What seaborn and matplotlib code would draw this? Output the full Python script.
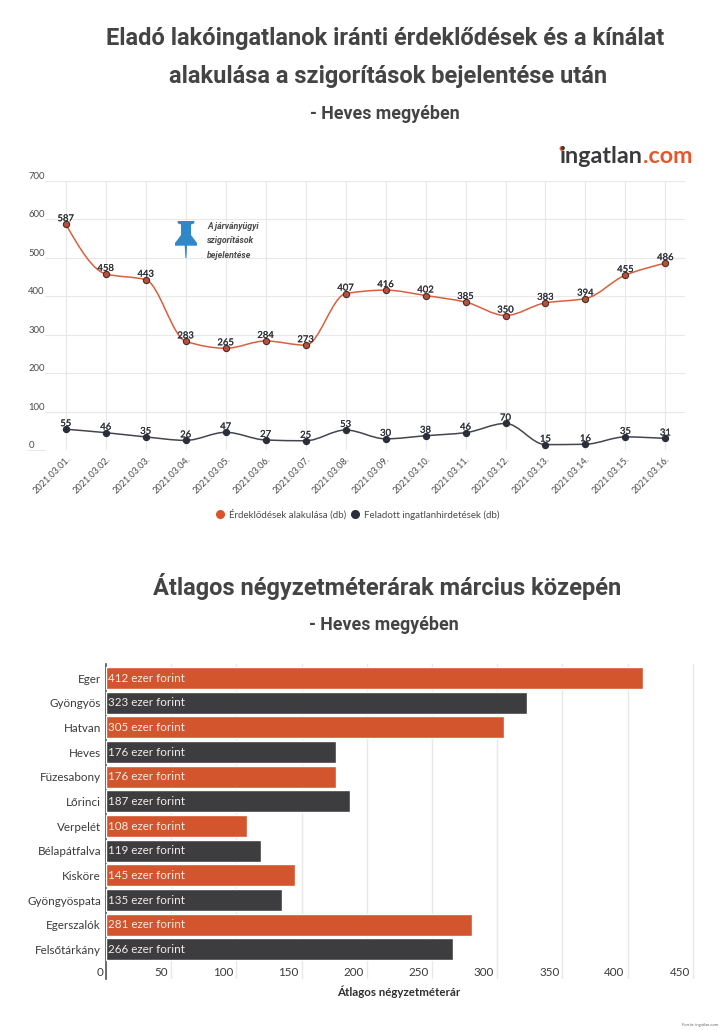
import numpy as np
import seaborn as sns
from matplotlib import pyplot as plt
from matplotlib import patheffects as pe
from matplotlib.lines import Line2D
from matplotlib.patches import Ellipse, PathPatch, Polygon
from matplotlib.path import Path
from matplotlib.transforms import ScaledTranslation

# line chart data
dates = ['2021.03.01.', '2021.03.02.', '2021.03.03.', '2021.03.04.', '2021.03.05.', '2021.03.06.',
         '2021.03.07.', '2021.03.08.', '2021.03.09.', '2021.03.10.', '2021.03.11.', '2021.03.12.',
         '2021.03.13.', '2021.03.14.', '2021.03.15.', '2021.03.16.']
erdeklodes = [587, 458, 443, 283, 265, 284, 273, 407, 416, 402, 385, 350, 383, 394, 455, 486]
hirdetes = [55, 46, 35, 26, 47, 27, 25, 53, 30, 38, 46, 70, 15, 16, 35, 31]
line_ticks = [0, 100, 200, 300, 400, 500, 600, 700]
line_names = ['Érdeklődések alakulása (db)', 'Feladott ingatlanhirdetések (db)']

# bar chart data
cities = ['Eger', 'Gyöngyös', 'Hatvan', 'Heves', 'Füzesabony', 'Lőrinci', 'Verpelét', 'Bélapátfalva',
          'Kisköre', 'Gyöngyöspata', 'Egerszalók', 'Felsőtárkány']
prices = [412, 323, 305, 176, 176, 187, 108, 119, 145, 135, 281, 266]
bar_groups = ['a', 'b', 'a', 'b', 'a', 'b', 'a', 'b', 'a', 'b', 'a', 'b']
bar_ticks = [0, 50, 100, 150, 200, 250, 300, 350, 400, 450]

W, H = 722, 1030
ORANGE = '#d2552d'
LINE_ORANGE = '#d8603f'
DARK = '#3d3d40'
NAVY = '#2b2d3a'
GRID = '#e8e8e8'
TEXT = '#4a4a4a'

sns.set_theme(style='white')
plt.rcParams['font.family'] = ['Lato', 'DejaVu Sans']


def px_axes(fig, left, top, right, bottom):
    return fig.add_axes([left / W, 1 - bottom / H, (right - left) / W, (bottom - top) / H])


def smooth_path(values):
    # monotone cubic bezier through the values (the source chart draws its lines this way)
    y = np.array(values, dtype=float)
    sec = np.diff(y)
    m = np.zeros(len(y))
    for i in range(1, len(y) - 1):
        if sec[i - 1] * sec[i] > 0:
            m[i] = 2 * sec[i - 1] * sec[i] / (sec[i - 1] + sec[i])
    m[0] = (3 * sec[0] - m[1]) / 2
    m[-1] = (3 * sec[-1] - m[-2]) / 2
    verts = [(0, y[0])]
    codes = [Path.MOVETO]
    for i in range(len(sec)):
        verts += [(i + 1 / 3, y[i] + m[i] / 3), (i + 2 / 3, y[i + 1] - m[i + 1] / 3), (i + 1, y[i + 1])]
        codes += [Path.CURVE4] * 3
    return Path(verts, codes)


fig = plt.figure(figsize=(W / 100, H / 100), dpi=100, facecolor='white')

# titles
title_font = dict(family='Roboto', fontweight='bold', color='#444444', ha='center', va='center')
fig.text(385 / W, 1 - 39 / H, 'Eladó lakóingatlanok iránti érdeklődések és a kínálat', fontsize=17, **title_font)
fig.text(388 / W, 1 - 76 / H, 'alakulása a szigorítások bejelentése után', fontsize=17, **title_font)
fig.text(385 / W, 1 - 114 / H, '- Heves megyében', fontsize=12.8, **title_font)
fig.text(387 / W, 1 - 587 / H, 'Átlagos négyzetméterárak március közepén', fontsize=17, **title_font)
fig.text(384 / W, 1 - 625 / H, '- Heves megyében', fontsize=12.8, **title_font)

# logo
fig.text(643 / W, 1 - 163 / H, 'ingatlan', fontsize=16.8, fontweight='bold', color='#3a3a3e', ha='right', va='baseline')
fig.text(643 / W, 1 - 163 / H, '.com', fontsize=16.8, fontweight='bold', color='#e4572e', ha='left', va='baseline')
fig.add_artist(Ellipse((562 / W, 1 - 148.5 / H), 5 / W, 5 / H, transform=fig.transFigure, facecolor='#e4572e',
                       edgecolor='none'))

# line chart
ax = px_axes(fig, 45, 180.7, 685, 450.4)
sns.scatterplot(x=dates, y=erdeklodes, ax=ax, color='#b9503a', edgecolor='#4a2a28', linewidth=0.8, s=20, zorder=4)
sns.scatterplot(x=dates, y=hirdetes, ax=ax, color=NAVY, edgecolor=NAVY, linewidth=0.8, s=20, zorder=4)
ax.add_patch(PathPatch(smooth_path(erdeklodes), fill=False, edgecolor=LINE_ORANGE, linewidth=1.1, zorder=3))
ax.add_patch(PathPatch(smooth_path(hirdetes), fill=False, edgecolor='#44454e', linewidth=1.1, zorder=3))
ax.set_xlim(-0.52, 15.49)
ax.set_ylim(0, 700)
ax.set_yticks(line_ticks)
ax.grid(True, color=GRID, linewidth=0.8)
ax.set_axisbelow(True)
sns.despine(ax=ax, left=True, bottom=True)
ax.axhline(0, xmin=-18 / 640, xmax=0, color=GRID, linewidth=0.8, clip_on=False)
ax.tick_params(axis='y', length=0, pad=12, labelsize=6.8, labelcolor=TEXT)
ax.tick_params(axis='x', length=0, pad=3, labelsize=6.6, labelcolor=TEXT)
for lab in ax.get_yticklabels():
    lab.set_ha('left')
    lab.set_va('bottom')
for lab in ax.get_xticklabels():
    lab.set_rotation(45)
    lab.set_ha('right')
    lab.set_rotation_mode('anchor')
label_effect = [pe.withStroke(linewidth=0.12, foreground='#2e3038')]
for series in (erdeklodes, hirdetes):
    for i, v in enumerate(series):
        ax.annotate(str(v), (i, v), xytext=(0, 4), textcoords='offset points', ha='center', va='center',
                    fontsize=6.8, color='#2e3038', zorder=5, path_effects=label_effect)

# the pin and its note
pin = [(177.7, 221), (194.3, 221), (194.3, 223.3), (191, 224.5), (191, 235), (197, 243), (197, 245.7),
       (187, 245.7), (186.4, 258), (185.4, 258), (184.7, 245.7), (175, 245.7), (175, 243), (181, 235),
       (181, 224.5), (177.7, 223.3)]
fig.add_artist(Polygon([(x / W, 1 - y / H) for x, y in pin], closed=True, transform=fig.transFigure,
                       facecolor='#2f88c8', edgecolor='none'))
fig.text(207 / W, 1 - 241 / H, 'A járványügyi\nszigorítások\nbejelentése', family='Roboto', fontweight='bold',
         fontstyle='italic', fontsize=6.3, color='#4a4a4a', va='center', ha='left', linespacing=1.75)

# legend
handles = [Line2D([], [], linestyle='none', marker='o', markersize=5.5, color='#d9542b'),
           Line2D([], [], linestyle='none', marker='o', markersize=5.5, color=NAVY)]
fig.legend(handles, line_names, ncol=2, frameon=False, loc='center', bbox_to_anchor=(357 / W, 1 - 514.5 / H),
           fontsize=7, labelcolor=TEXT, handletextpad=0.3, columnspacing=0.3, handlelength=1.2)

# bar chart
ax2 = px_axes(fig, 106, 664, 700, 979)
sns.barplot(x=prices, y=cities, hue=bar_groups, palette={'a': ORANGE, 'b': DARK}, dodge=False, width=0.89,
            saturation=1, legend=False, ax=ax2, zorder=3)
ax2.set_xlim(0, 455.5)
ax2.set_ylim(12.2, -0.57)
ax2.set_xticks(bar_ticks)
ax2.grid(True, axis='x', color=GRID, linewidth=1.0)
ax2.set_axisbelow(True)
sns.despine(ax=ax2, top=True, right=True, bottom=True)
ax2.spines['left'].set_color('#555555')
ax2.spines['left'].set_linewidth(1.2)
ax2.tick_params(axis='y', length=0, pad=3.6, labelsize=8.4, labelcolor='#3a3a3a')
ax2.tick_params(axis='x', length=0, pad=-9, labelsize=8.4, labelcolor='#3a3a3a')
shift = ScaledTranslation(-3 / 100, 0, fig.dpi_scale_trans)
for lab in ax2.get_xticklabels():
    lab.set_ha('right')
    lab.set_transform(lab.get_transform() + shift)
for i, v in enumerate(prices):
    ax2.annotate(f'{v} ezer forint', (0, i), xytext=(1.6, 0), textcoords='offset points', ha='left', va='center',
                 fontsize=8.4, color='#f3ece8', zorder=5)
ax2.set_xlabel('Átlagos négyzetméterár', fontsize=8.3, fontweight='bold', color='#2e2e2e')
ax2.set_ylabel('')
ax2.xaxis.set_label_coords((399 - 106) / 594, -(985 - 979) / 315)
ax2.xaxis.label.set_va('top')

fig.text(718 / W, 1 - 1025 / H, 'Forrás: ingatlan.com', fontsize=3, color='#666666', ha='right', va='center')

fig.savefig('out.png', dpi=100)
